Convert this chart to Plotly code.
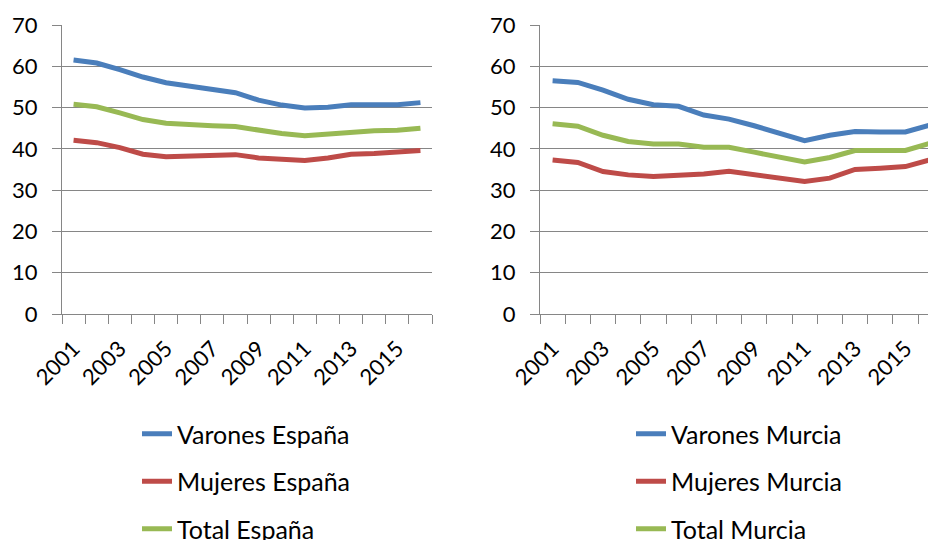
import plotly.graph_objects as go

years = list(range(2001, 2017))
tick_years = [2001, 2003, 2005, 2007, 2009, 2011, 2013, 2015]

varones_espana = [61.5, 60.8, 59.2, 57.4, 56.0, 55.2, 54.4, 53.6, 51.8, 50.6, 49.9, 50.1, 50.7, 50.7, 50.7, 51.2]
mujeres_espana = [42.1, 41.5, 40.3, 38.7, 38.1, 38.3, 38.4, 38.6, 37.8, 37.5, 37.2, 37.8, 38.7, 38.9, 39.1, 39.6]
total_espana = [50.8, 50.2, 48.7, 47.1, 46.2, 45.8, 45.6, 45.4, 44.4, 43.7, 43.2, 43.6, 44.2, 44.4, 44.5, 45.0]

varones_murcia = [56.5, 56.1, 54.2, 52.0, 50.7, 50.3, 48.2, 47.2, 45.6, 43.7, 42.0, 43.3, 44.2, 44.1, 44.1, 45.8]
mujeres_murcia = [37.3, 36.7, 34.5, 33.7, 33.3, 33.5, 33.9, 34.6, 33.7, 32.9, 32.1, 32.9, 35.0, 35.3, 35.7, 37.4]
total_murcia = [46.1, 45.5, 43.3, 41.8, 41.2, 41.2, 40.4, 40.4, 39.2, 37.9, 36.8, 37.9, 39.6, 39.6, 39.6, 41.4]

BLUE = "#4A7EBB"
RED = "#BE4B48"
GREEN = "#98B954"
GRID = "#868686"
FONT = "Lato"

# page offset of the figure (browser body margin) and figure size
OX, OY = 8, 8
W, H = 936 - OX, 540 - OY


def px(x):
    return (x - OX) / W


def py(y):
    return 1 - (y - OY) / H


fig = go.Figure()

left = [("Varones España", varones_espana, BLUE),
        ("Mujeres España", mujeres_espana, RED),
        ("Total España", total_espana, GREEN)]
right = [("Varones Murcia", varones_murcia, BLUE),
         ("Mujeres Murcia", mujeres_murcia, RED),
         ("Total Murcia", total_murcia, GREEN)]

for i, (name, vals, col) in enumerate(left):
    fig.add_trace(go.Scatter(x=years, y=vals, name=name, mode="lines",
                             line=dict(color=col, width=5),
                             xaxis="x", yaxis="y", legend="legend",
                             legendgroup="l%d" % i))
for i, (name, vals, col) in enumerate(right):
    fig.add_trace(go.Scatter(x=years, y=vals, name=name, mode="lines",
                             line=dict(color=col, width=5),
                             xaxis="x2", yaxis="y2", legend="legend2",
                             legendgroup="r%d" % i))

ydom = [py(314), py(25)]
boundaries = [y - 0.5 for y in range(2001, 2018)]


def xaxis_cfg(dom, rng, anchor):
    return dict(domain=dom, range=rng, anchor=anchor, automargin=False,
                tickmode="array", tickvals=tick_years,
                ticktext=[str(t) for t in tick_years],
                tickangle=-45, ticks="outside", ticklen=12, tickcolor="rgba(0,0,0,0)",
                showgrid=False, zeroline=False,
                showline=True, linecolor=GRID, linewidth=1.3,
                tickfont=dict(family=FONT, size=22, color="#000000"),
                minor=dict(tickmode="array", tickvals=boundaries, ticks="outside",
                           ticklen=9, tickcolor=GRID, tickwidth=1.3, showgrid=False))


def yaxis_cfg(anchor):
    return dict(domain=ydom, range=[0, 70], anchor=anchor, automargin=False,
                tickmode="linear", tick0=0, dtick=10,
                ticks="outside", ticklen=9, tickcolor=GRID, tickwidth=1.3,
                showgrid=True, gridcolor=GRID, gridwidth=1.3,
                zeroline=False, showline=True, linecolor=GRID, linewidth=1.3,
                ticklabelstandoff=10,
                tickfont=dict(family=FONT, size=22, color="#000000"))


fig.update_layout(
    template="none",
    width=W, height=H,
    margin=dict(l=0, r=0, t=0, b=0, pad=0, autoexpand=False),
    paper_bgcolor="white", plot_bgcolor="white",
    font=dict(family=FONT, color="#000000"),
    xaxis=xaxis_cfg([px(62), px(432)], [2000.5, 2016.5], "y"),
    yaxis=yaxis_cfg("x"),
    xaxis2=xaxis_cfg([px(540), 1.0], [2000.5, 2000.5 + (936 - 540) / 25.2], "y2"),
    yaxis2=yaxis_cfg("x2"),
    legend=dict(x=px(137), y=py(411), xanchor="left", yanchor="top",
                orientation="v", tracegroupgap=12, itemwidth=30,
                font=dict(family=FONT, size=25, color="#000000"),
                bgcolor="rgba(0,0,0,0)"),
    legend2=dict(x=px(631), y=py(411), xanchor="left", yanchor="top",
                 orientation="v", tracegroupgap=12, itemwidth=30,
                 font=dict(family=FONT, size=25, color="#000000"),
                 bgcolor="rgba(0,0,0,0)"),
    showlegend=True,
)

fig.write_html("out.html")
